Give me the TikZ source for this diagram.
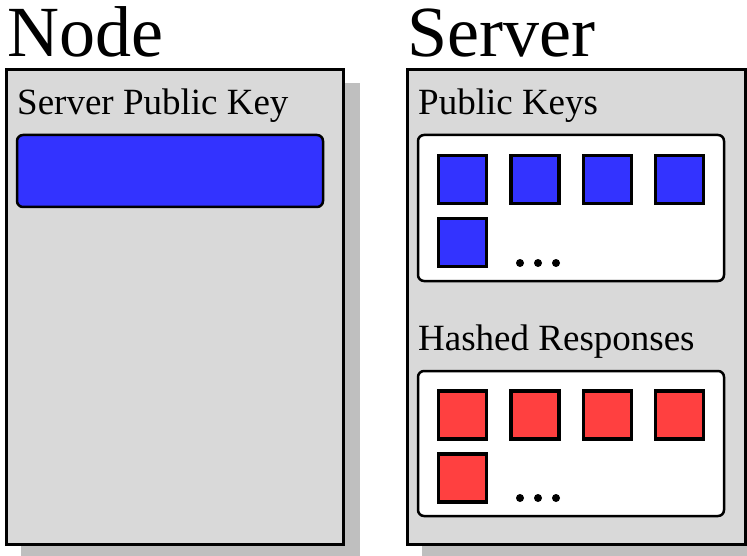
\documentclass[tikz,border=0pt]{standalone}
\usepackage{fontspec}
\setmainfont{Liberation Serif}
\definecolor{panelgray}{HTML}{D9D9D9}
\definecolor{shadowgray}{HTML}{BFBFBF}
\definecolor{keyblue}{HTML}{3333FF}
\definecolor{resred}{HTML}{FF4040}
\begin{document}
\begin{tikzpicture}[x=1pt,y=-1pt,
  panel/.style={draw=black,line width=3pt,fill=panelgray},
  shadowbox/.style={fill=shadowgray,draw=none},
  inner/.style={draw=black,line width=2.5pt,fill=white,rounded corners=6pt},
  titletext/.style={anchor=base west,inner sep=0pt,font=\fontsize{72}{76}\selectfont},
  labeltext/.style={anchor=base west,inner sep=0pt,font=\fontsize{37}{40}\selectfont},
  keysq/.style={draw=black,line width=3.5pt,fill=keyblue,minimum width=48pt,minimum height=48pt,inner sep=0pt},
  ressq/.style={draw=black,line width=3.5pt,fill=resred,minimum width=48pt,minimum height=48pt,inner sep=0pt},
  dotmark/.style={circle,fill=black,inner sep=0pt,minimum size=8pt}
]
\useasboundingbox (0,0) rectangle (747,556);
% shadows
\fill[shadowgray] (21,83) rectangle (360,560);
\fill[shadowgray] (422,83) rectangle (760,560);
% panels
\draw[panel] (6,70) rectangle (343,544);
\draw[panel] (407,70) rectangle (745,544);
% titles
\node[titletext] (tnode) at (7,57) {Node};
\node[titletext] (tserver) at (407,57) {Server};
% left panel content
\node[labeltext] (lspk) at (17,115) {Server Public Key};
\draw[line width=2.5pt,fill=keyblue,rounded corners=6pt] (17,135) rectangle (323,207);
% right panel: public keys
\node[labeltext] (lpk) at (418,115) {Public Keys};
\draw[inner] (418,135) rectangle (724,281);
\node[keysq] (k1) at (462.5,179.5) {};
\node[keysq] (k2) at (535,179.5) {};
\node[keysq] (k3) at (607.5,179.5) {};
\node[keysq] (k4) at (679.5,179.5) {};
\node[keysq] (k5) at (462.5,242.5) {};
\node[dotmark] (kd1) at (520,263) {};
\node[dotmark] (kd2) at (538,263) {};
\node[dotmark] (kd3) at (556,263) {};
% right panel: hashed responses
\node[labeltext] (lhr) at (418,350) {Hashed Responses};
\draw[inner] (418,371) rectangle (724,516);
\node[ressq] (r1) at (462.5,415) {};
\node[ressq] (r2) at (535,415) {};
\node[ressq] (r3) at (607.5,415) {};
\node[ressq] (r4) at (679.5,415) {};
\node[ressq] (r5) at (462.5,478) {};
\node[dotmark] (rd1) at (520,498) {};
\node[dotmark] (rd2) at (538,498) {};
\node[dotmark] (rd3) at (556,498) {};
\end{tikzpicture}
\end{document}
